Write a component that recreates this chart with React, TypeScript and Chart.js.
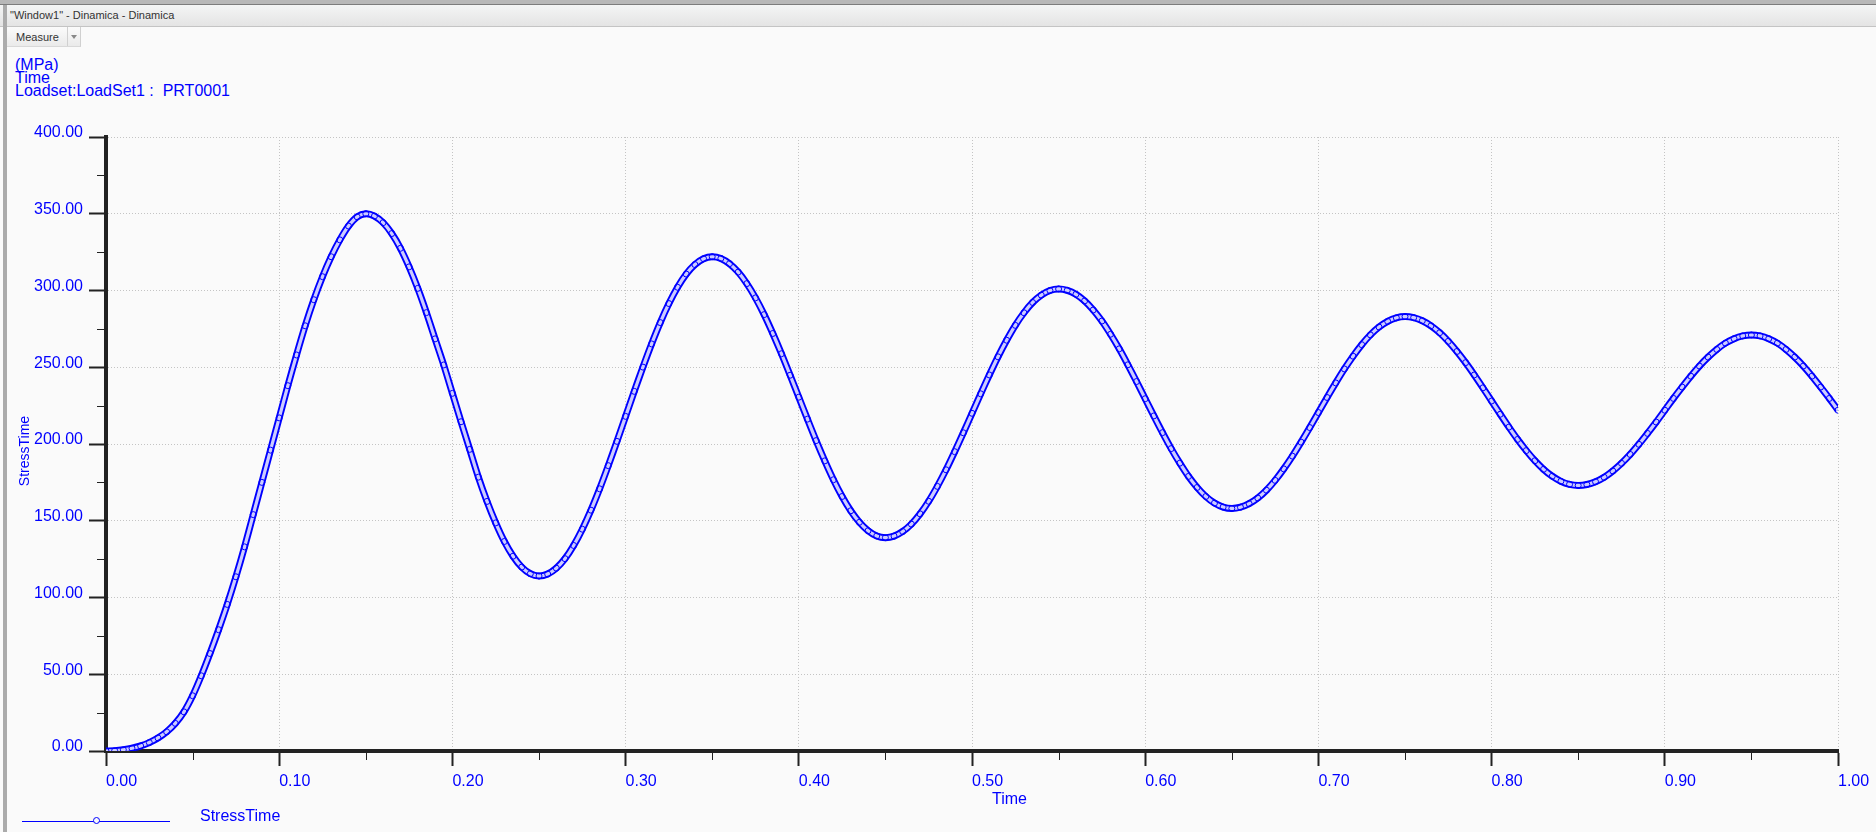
import React, { useEffect, useRef } from "react";
import { Chart, registerables } from "chart.js";

Chart.register(...registerables);

const windowTitle = '"Window1" - Dinamica - Dinamica';
const toolButton = "Measure";
const headerLines = ["(MPa)", "Time", "Loadset:LoadSet1 :  PRT0001"];
const seriesName = "StressTime";
const xTitle = "Time";

const time: number[] = [
  0, 0.005, 0.01, 0.015, 0.02, 0.025, 0.03, 0.035, 0.04, 0.045,
  0.05, 0.055, 0.06, 0.065, 0.07, 0.075, 0.08, 0.085, 0.09, 0.095,
  0.1, 0.105, 0.11, 0.115, 0.12, 0.125, 0.13, 0.135, 0.14, 0.145,
  0.15, 0.155, 0.16, 0.165, 0.17, 0.175, 0.18, 0.185, 0.19, 0.195,
  0.2, 0.205, 0.21, 0.215, 0.22, 0.225, 0.23, 0.235, 0.24, 0.245,
  0.25, 0.255, 0.26, 0.265, 0.27, 0.275, 0.28, 0.285, 0.29, 0.295,
  0.3, 0.305, 0.31, 0.315, 0.32, 0.325, 0.33, 0.335, 0.34, 0.345,
  0.35, 0.355, 0.36, 0.365, 0.37, 0.375, 0.38, 0.385, 0.39, 0.395,
  0.4, 0.405, 0.41, 0.415, 0.42, 0.425, 0.43, 0.435, 0.44, 0.445,
  0.45, 0.455, 0.46, 0.465, 0.47, 0.475, 0.48, 0.485, 0.49, 0.495,
  0.5, 0.505, 0.51, 0.515, 0.52, 0.525, 0.53, 0.535, 0.54, 0.545,
  0.55, 0.555, 0.56, 0.565, 0.57, 0.575, 0.58, 0.585, 0.59, 0.595,
  0.6, 0.605, 0.61, 0.615, 0.62, 0.625, 0.63, 0.635, 0.64, 0.645,
  0.65, 0.655, 0.66, 0.665, 0.67, 0.675, 0.68, 0.685, 0.69, 0.695,
  0.7, 0.705, 0.71, 0.715, 0.72, 0.725, 0.73, 0.735, 0.74, 0.745,
  0.75, 0.755, 0.76, 0.765, 0.77, 0.775, 0.78, 0.785, 0.79, 0.795,
  0.8, 0.805, 0.81, 0.815, 0.82, 0.825, 0.83, 0.835, 0.84, 0.845,
  0.85, 0.855, 0.86, 0.865, 0.87, 0.875, 0.88, 0.885, 0.89, 0.895,
  0.9, 0.905, 0.91, 0.915, 0.92, 0.925, 0.93, 0.935, 0.94, 0.945,
  0.95, 0.955, 0.96, 0.965, 0.97, 0.975, 0.98, 0.985, 0.99, 0.995,
  1,
];

const stress: number[] = [
  0, 0.2, 0.8, 1.8, 3.3, 5.5, 8.5, 12.5, 18, 25.5,
  36, 49, 63.5, 79, 95.5, 113.5, 133, 154, 175, 196,
  217, 238, 258, 277, 294, 309, 322, 333, 342, 348,
  350, 348.5, 344.2, 337.1, 327.5, 315.4, 301.4, 285.6, 268.5, 251.5,
  233, 214.5, 196.5, 178.4, 162.6, 148.6, 136.5, 126.9, 119.8, 115.5,
  114, 115.3, 119.1, 125.3, 133.9, 144.5, 156.9, 170.8, 185.9, 201.7,
  218, 234.3, 250.1, 265.2, 279.1, 291.5, 302.1, 310.7, 316.9, 320.7,
  322, 320.9, 317.5, 312, 304.5, 295.2, 284.3, 272, 258.8, 244.8,
  230.5, 216.2, 202.2, 189, 176.7, 165.8, 156.5, 149, 143.5, 140.1,
  139, 140, 143, 147.8, 154.5, 162.7, 172.4, 183.2, 195, 207.3,
  220, 232.7, 245, 256.8, 267.6, 277.3, 285.5, 292.2, 297, 300,
  301, 300.1, 297.5, 293.2, 287.3, 280.1, 271.5, 262, 251.6, 240.7,
  229.5, 218.3, 207.4, 197, 187.5, 178.9, 171.7, 165.8, 161.5, 158.9,
  158, 158.8, 161.1, 164.8, 169.9, 176.3, 183.8, 192.1, 201.2, 210.7,
  220.5, 230.3, 239.8, 248.9, 257.2, 264.7, 271.1, 276.2, 279.9, 282.2,
  283, 282.3, 280.3, 277, 272.5, 266.9, 260.3, 253, 245, 236.6,
  228, 219.4, 211, 203, 195.7, 189.1, 183.5, 179, 175.7, 173.7,
  173, 173.6, 175.4, 178.3, 182.4, 187.4, 193.2, 199.8, 206.9, 214.3,
  222, 229.7, 237.1, 244.2, 250.8, 256.6, 261.6, 265.7, 268.6, 270.4,
  271, 270.4, 268.6, 265.7, 261.6, 256.6, 250.8, 244.2, 237.1, 229.7,
  222,
];

const yMinorTicks: number[] = [25, 75, 125, 175, 225, 275, 325, 375];
const xMinorTicks: number[] = [0.05, 0.15, 0.25, 0.35, 0.45, 0.55, 0.65, 0.75, 0.85, 0.95];

const FONT = '"Liberation Sans", Arial, sans-serif';
const BLUE = "#0000ff";

export default function App() {
  const ref = useRef<HTMLCanvasElement>(null);

  useEffect(() => {
    const points = time.map((t, i) => ({ x: t, y: stress[i] }));

    const decorPlugin = {
      id: "decor",
      afterDraw(chart: any) {
        const { ctx, chartArea, scales } = chart;
        ctx.save();
        ctx.strokeStyle = "#222222";
        ctx.lineWidth = 1;
        ctx.beginPath();
        for (const v of yMinorTicks) {
          const py = Math.round(scales.y.getPixelForValue(v)) + 0.5;
          ctx.moveTo(chartArea.left - 9, py);
          ctx.lineTo(chartArea.left, py);
        }
        for (const v of xMinorTicks) {
          const px = Math.round(scales.x.getPixelForValue(v)) + 0.5;
          ctx.moveTo(px, chartArea.bottom);
          ctx.lineTo(px, chartArea.bottom + 9);
        }
        ctx.stroke();
        // y axis title
        ctx.translate(25, 451);
        ctx.rotate(-Math.PI / 2);
        ctx.fillStyle = BLUE;
        ctx.font = "14px " + FONT;
        ctx.textAlign = "center";
        ctx.textBaseline = "middle";
        ctx.fillText(seriesName, 0, 0);
        ctx.restore();
      },
    };

    const gridCommon = {
      color: "#c4c4c4",
      lineWidth: 1,
      tickColor: "#222222",
      tickWidth: 2,
      tickBorderDash: [],
    };
    const borderCommon = { color: "#222222", width: 4, dash: [1, 2] };

    const chart = new Chart(ref.current as HTMLCanvasElement, {
      type: "line",
      data: {
        datasets: [
          {
            label: seriesName + " markers",
            data: points,
            showLine: false,
            pointRadius: 3,
            pointBorderWidth: 1,
            pointBorderColor: BLUE,
            pointBackgroundColor: "rgba(0,0,0,0)",
          },
          {
            label: seriesName + " inner",
            data: points,
            borderColor: "rgba(240,240,255,0.85)",
            borderWidth: 3.2,
            pointRadius: 0,
            tension: 0.3,
          },
          {
            label: seriesName,
            data: points,
            borderColor: BLUE,
            borderWidth: 7,
            pointRadius: 0,
            tension: 0.3,
          },
        ] as any,
      },
      options: {
        animation: false,
        responsive: false,
        maintainAspectRatio: false,
        events: [],
        layout: { padding: { left: 0, top: 137, right: 38, bottom: 0 } },
        plugins: { legend: { display: false }, tooltip: { enabled: false } },
        scales: {
          x: {
            type: "linear",
            min: 0,
            max: 1,
            afterFit: (s: any) => {
              s.height = 81;
            },
            ticks: {
              stepSize: 0.1,
              align: "start",
              padding: 6,
              maxRotation: 0,
              autoSkip: false,
              color: BLUE,
              font: { family: FONT, size: 16 },
              callback: (v: any) => Number(v).toFixed(2),
            },
            grid: { ...gridCommon, tickLength: 15 },
            border: borderCommon,
            title: { display: false },
          },
          y: {
            type: "linear",
            min: 0,
            max: 400,
            afterFit: (s: any) => {
              s.width = 106;
            },
            ticks: {
              stepSize: 50,
              padding: 6,
              labelOffset: -4,
              color: BLUE,
              font: { family: FONT, size: 16 },
              callback: (v: any) => Number(v).toFixed(2),
            },
            grid: { ...gridCommon, tickLength: 17 },
            border: borderCommon,
            title: { display: false },
          },
        },
      } as any,
      plugins: [decorPlugin],
    });
    return () => chart.destroy();
  }, []);

  return (
    <div
      style={{
        position: "fixed",
        left: 0,
        top: 0,
        width: 1876,
        height: 832,
        overflow: "hidden",
        background: "#fafafa",
        fontFamily: FONT,
      }}
    >
      {/* window frame */}
      <div style={{ position: "absolute", left: 0, top: 0, width: 1876, height: 4, background: "#b8b8b8" }} />
      <div style={{ position: "absolute", left: 0, top: 4, width: 1876, height: 1, background: "#7c7c7c" }} />
      <div
        style={{
          position: "absolute",
          left: 0,
          top: 5,
          width: 1876,
          height: 21,
          background: "linear-gradient(#f4f5f5, #e4e4e4)",
          borderBottom: "1px solid #c4c4c4",
        }}
      />
      <div
        style={{
          position: "absolute",
          left: 10,
          top: 8,
          fontFamily: "Arial, 'Liberation Sans', sans-serif",
          fontSize: 11,
          lineHeight: "15px",
          color: "#333",
          whiteSpace: "pre",
        }}
      >
        {windowTitle}
      </div>
      <div style={{ position: "absolute", left: 3, top: 5, width: 4, height: 827, background: "#ababab" }} />
      {/* Measure button */}
      <div
        style={{
          position: "absolute",
          left: 7,
          top: 27,
          width: 74,
          height: 20,
          background: "linear-gradient(#fbfbfb, #eaeaea)",
          borderRight: "1px solid #d0d0d0",
          borderBottom: "1px solid #d8d8d8",
          boxSizing: "border-box",
        }}
      >
        <div
          style={{
            position: "absolute",
            left: 9,
            top: 3,
            fontFamily: "Arial, 'Liberation Sans', sans-serif",
            fontSize: 11,
            lineHeight: "14px",
            color: "#333",
          }}
        >
          {toolButton}
        </div>
        <div style={{ position: "absolute", left: 60, top: 0, width: 1, height: 19, background: "#d0d0d0" }} />
        <div
          style={{
            position: "absolute",
            left: 64,
            top: 8,
            width: 0,
            height: 0,
            borderLeft: "3px solid transparent",
            borderRight: "3px solid transparent",
            borderTop: "4px solid #888",
          }}
        />
      </div>
      {/* header lines */}
      <div
        style={{
          position: "absolute",
          left: 15,
          top: 58,
          fontSize: 16,
          lineHeight: "13px",
          color: BLUE,
          whiteSpace: "pre",
        }}
      >
        {headerLines.map((l) => (
          <div key={l}>{l}</div>
        ))}
      </div>
      <canvas
        ref={ref}
        width={1876}
        height={832}
        style={{ position: "absolute", left: 0, top: 0, width: 1876, height: 832, display: "block" }}
      />
      {/* x axis title */}
      <div
        style={{
          position: "absolute",
          left: 992,
          top: 791,
          fontSize: 16,
          lineHeight: "16px",
          color: BLUE,
        }}
      >
        {xTitle}
      </div>
      {/* legend */}
      <div style={{ position: "absolute", left: 22, top: 821, width: 148, height: 1, background: BLUE }} />
      <div
        style={{
          position: "absolute",
          left: 93,
          top: 817,
          width: 7,
          height: 7,
          borderRadius: "50%",
          border: "1px solid " + BLUE,
          background: "#fafafa",
          boxSizing: "border-box",
        }}
      />
      <div
        style={{
          position: "absolute",
          left: 200,
          top: 808,
          fontSize: 16,
          lineHeight: "16px",
          color: BLUE,
        }}
      >
        {seriesName}
      </div>
    </div>
  );
}
